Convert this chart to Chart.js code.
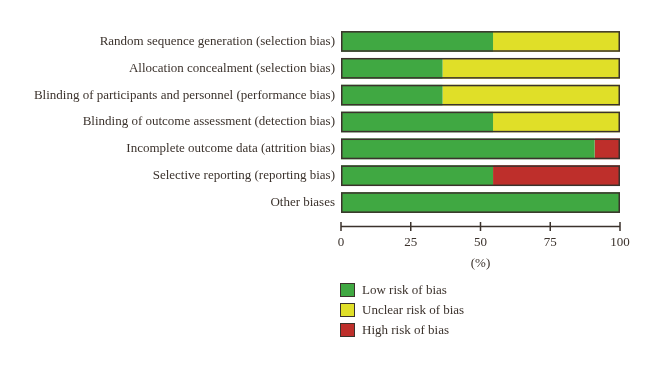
<!DOCTYPE html>
<html>
<head>
<meta charset="utf-8">
<script src="https://cdn.jsdelivr.net/npm/chart.js@4.4.1/dist/chart.umd.min.js"></script>
<style>
  html, body { margin: 0; padding: 0; background: #fff; }
  #wrap { position: relative; width: 660px; height: 370px; }
  #legend { position: absolute; left: 340px; top: 280px; font: 13px 'Liberation Serif', serif; color: #3b322c; }
  #legend .item { height: 20px; display: flex; align-items: center; }
  #legend .box { width: 13px; height: 12px; border: 1.5px solid #3b322c; margin-right: 7px; }
</style>
</head>
<body>
<div id="wrap">
  <canvas id="biasChart" width="660" height="370"></canvas>
  <div id="legend"></div>
</div>
<script>
'use strict';

const domains = [
  'Random sequence generation (selection bias)',
  'Allocation concealment (selection bias)',
  'Blinding of participants and personnel (performance bias)',
  'Blinding of outcome assessment (detection bias)',
  'Incomplete outcome data (attrition bias)',
  'Selective reporting (reporting bias)',
  'Other biases'
];
const lowRisk = [54.5, 36.4, 36.4, 54.5, 90.9, 54.5, 100];
const unclearRisk = [45.5, 63.6, 63.6, 45.5, 0, 0, 0];
const highRisk = [0, 0, 0, 0, 9.1, 45.5, 0];
const xTicks = [0, 25, 50, 75, 100];
const seriesNames = ['Low risk of bias', 'Unclear risk of bias', 'High risk of bias'];

const ink = '#3b322c';
const colors = {
  low: '#40a842',
  unclear: '#e0df28',
  high: '#be2f2b'
};
const fontSerif = "'Liberation Serif', 'DejaVu Serif', serif";

// one dark frame around each whole stacked row (no seams between segments)
const rowFrame = {
  id: 'rowFrame',
  afterDatasetsDraw(chart) {
    const { ctx } = chart;
    const metas = chart.data.datasets.map((ds, d) => chart.getDatasetMeta(d));
    ctx.save();
    ctx.strokeStyle = ink;
    ctx.lineWidth = 1.5;
    chart.data.labels.forEach((lab, i) => {
      let left = Infinity, right = -Infinity, top = 0, bottom = 0;
      metas.forEach(m => {
        const el = m.data[i];
        const p = el.getProps(['x', 'y', 'base', 'height'], true);
        left = Math.min(left, p.base, p.x);
        right = Math.max(right, p.base, p.x);
        top = p.y - p.height / 2;
        bottom = p.y + p.height / 2;
      });
      ctx.strokeRect(left + 0.75, top + 0.75, right - left - 1.5, bottom - top - 1.5);
    });
    ctx.restore();
  }
};

// axis line with tick marks crossing it, a little below the bars
const axisLine = {
  id: 'axisLine',
  afterDraw(chart) {
    const { ctx, chartArea, scales: { x } } = chart;
    const y = chartArea.bottom + 10.5;
    ctx.save();
    ctx.strokeStyle = ink;
    ctx.lineWidth = 1.5;
    ctx.beginPath();
    ctx.moveTo(x.left, y);
    ctx.lineTo(x.right, y);
    x.ticks.forEach(t => {
      const px = x.getPixelForValue(t.value);
      ctx.moveTo(px, y - 4.5);
      ctx.lineTo(px, y + 4.5);
    });
    ctx.stroke();
    ctx.restore();
  }
};

const makeSet = (label, data, color) => ({
  label: label,
  data: data,
  backgroundColor: color,
  borderWidth: 0,
  categoryPercentage: 1,
  barPercentage: 0.77
});

const ctx = document.getElementById('biasChart').getContext('2d');
const chart = new Chart(ctx, {
  type: 'bar',
  data: {
    labels: domains,
    datasets: [
      makeSet(seriesNames[0], lowRisk, colors.low),
      makeSet(seriesNames[1], unclearRisk, colors.unclear),
      makeSet(seriesNames[2], highRisk, colors.high)
    ]
  },
  options: {
    indexAxis: 'y',
    responsive: false,
    animation: false,
    layout: { padding: { top: 28, right: 40, left: 0, bottom: 0 } },
    plugins: {
      legend: { display: false },
      tooltip: { enabled: false }
    },
    scales: {
      x: {
        stacked: true,
        min: 0,
        max: 100,
        grid: { display: false, drawTicks: false },
        border: { display: false },
        afterBuildTicks: s => { s.ticks = xTicks.map(v => ({ value: v })); },
        afterFit: s => { s.height = 154; },
        ticks: {
          color: ink,
          padding: 19,
          font: { family: fontSerif, size: 13 }
        },
        title: {
          display: true,
          text: '(%)',
          color: ink,
          font: { family: fontSerif, size: 13 },
          padding: { top: 0, bottom: 99 }
        }
      },
      y: {
        stacked: true,
        grid: { display: false, drawTicks: false },
        border: { display: false },
        afterFit: s => { s.width = 341; },
        ticks: {
          color: ink,
          padding: 6,
          font: { family: fontSerif, size: 13 }
        }
      }
    }
  },
  plugins: [rowFrame, axisLine]
});

// vertical legend under the axis
const legendEl = document.getElementById('legend');
chart.data.datasets.forEach(ds => {
  const row = document.createElement('div');
  row.className = 'item';
  const box = document.createElement('span');
  box.className = 'box';
  box.style.background = ds.backgroundColor;
  const txt = document.createElement('span');
  txt.textContent = ds.label;
  row.appendChild(box);
  row.appendChild(txt);
  legendEl.appendChild(row);
});
</script>
</body>
</html>
